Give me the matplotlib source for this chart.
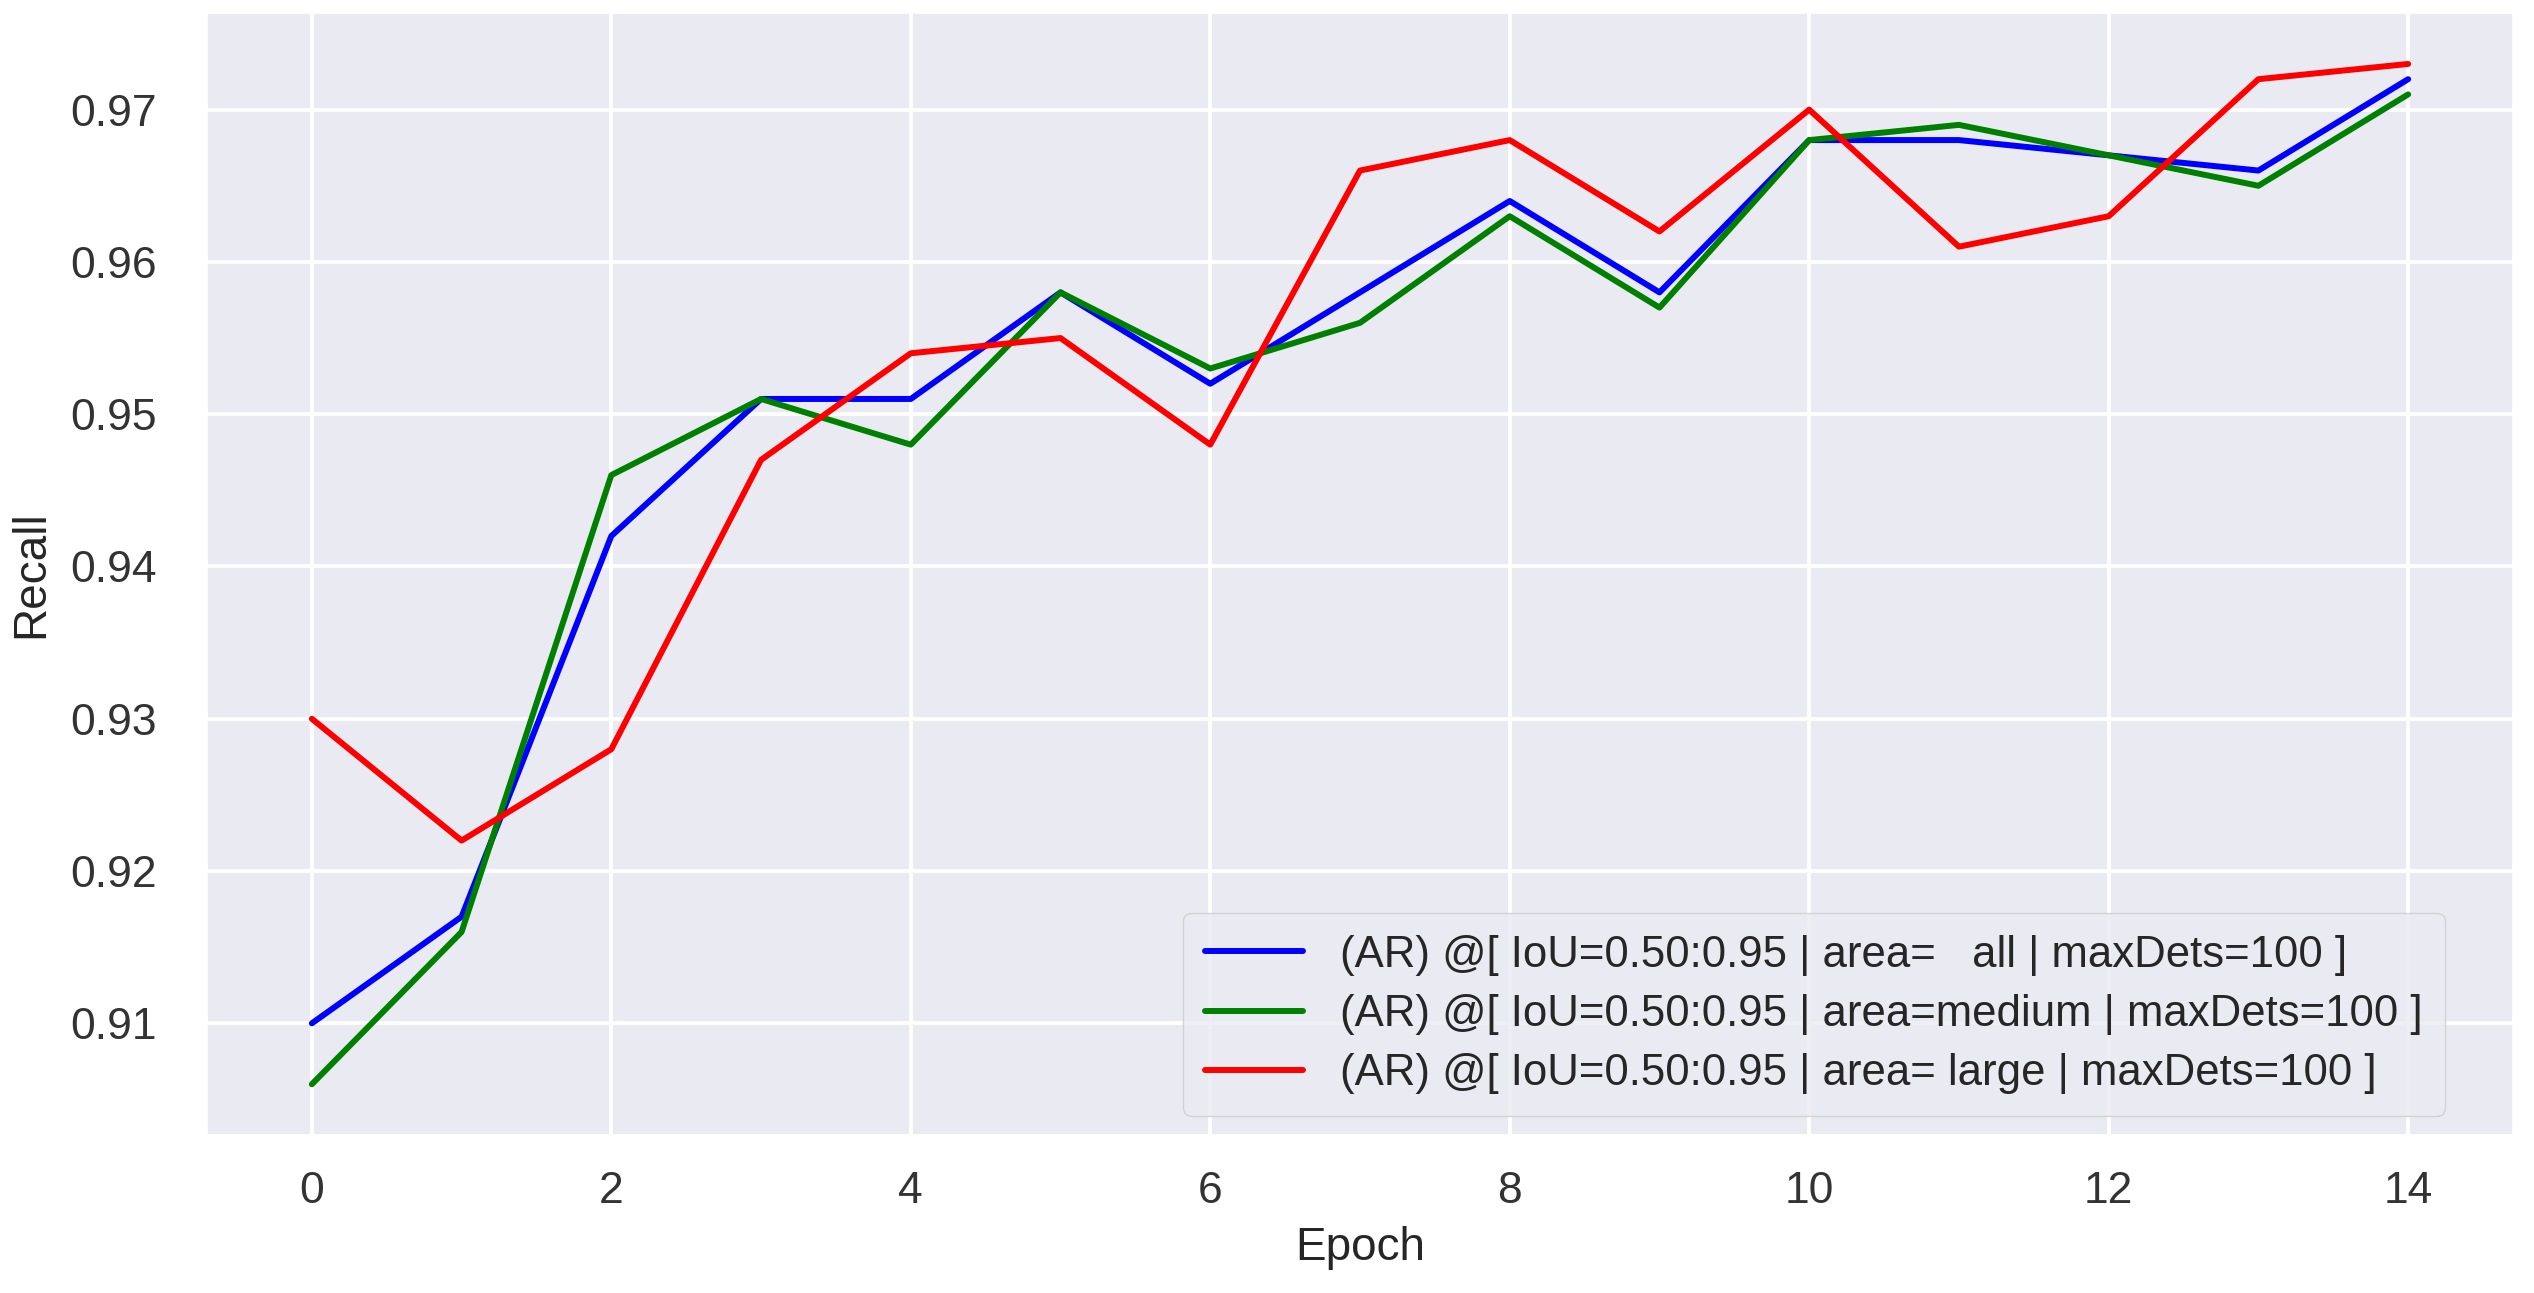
import matplotlib
matplotlib.use("Agg")
import matplotlib.pyplot as plt
import seaborn as sns

epochs = list(range(15))
ar_all = [0.910, 0.917, 0.942, 0.951, 0.951, 0.958, 0.952, 0.958, 0.964, 0.958, 0.968, 0.968, 0.967, 0.966, 0.972]
ar_medium = [0.906, 0.916, 0.946, 0.951, 0.948, 0.958, 0.953, 0.956, 0.963, 0.957, 0.968, 0.969, 0.967, 0.965, 0.971]
ar_large = [0.930, 0.922, 0.928, 0.947, 0.954, 0.955, 0.948, 0.966, 0.968, 0.962, 0.970, 0.961, 0.963, 0.972, 0.973]
labels = [
    "(AR) @[ IoU=0.50:0.95 | area=   all | maxDets=100 ]",
    "(AR) @[ IoU=0.50:0.95 | area=medium | maxDets=100 ]",
    "(AR) @[ IoU=0.50:0.95 | area= large | maxDets=100 ]",
]
colors = ["blue", "green", "red"]

sns.set_theme(style="darkgrid")
plt.rcParams['font.family'] = ['Liberation Sans', 'DejaVu Sans']
plt.rcParams['grid.linewidth'] = 2.7

fig = plt.figure(figsize=(25.34, 12.93), dpi=100)
ax = fig.add_axes([0.0817, 0.122, 0.9100, 0.868])
for vals, lab, c in zip([ar_all, ar_medium, ar_large], labels, colors):
    ax.plot(epochs, vals, color=c, lw=4.3, label=lab)

ax.set_xticks(range(0, 15, 2))
ax.set_yticks([0.91, 0.92, 0.93, 0.94, 0.95, 0.96, 0.97])
ax.tick_params(axis="y", labelsize=32, colors="#333333", pad=30)
ax.tick_params(axis="x", labelsize=32, colors="#333333", pad=20)
ax.set_xlabel("Epoch", fontsize=33, color="#262626", labelpad=10)
ax.set_ylabel("Recall", fontsize=33, color="#262626", labelpad=12)
leg = ax.legend(loc="lower right", bbox_to_anchor=(0.9705, 0.017), borderaxespad=0,
                fontsize=31.5, handlelength=2.25, borderpad=0.5,
                labelspacing=0.42, handletextpad=0.85, framealpha=0.8)
for t in leg.get_texts():
    t.set_color("#262626")
fig.savefig("out.png", dpi=100)
